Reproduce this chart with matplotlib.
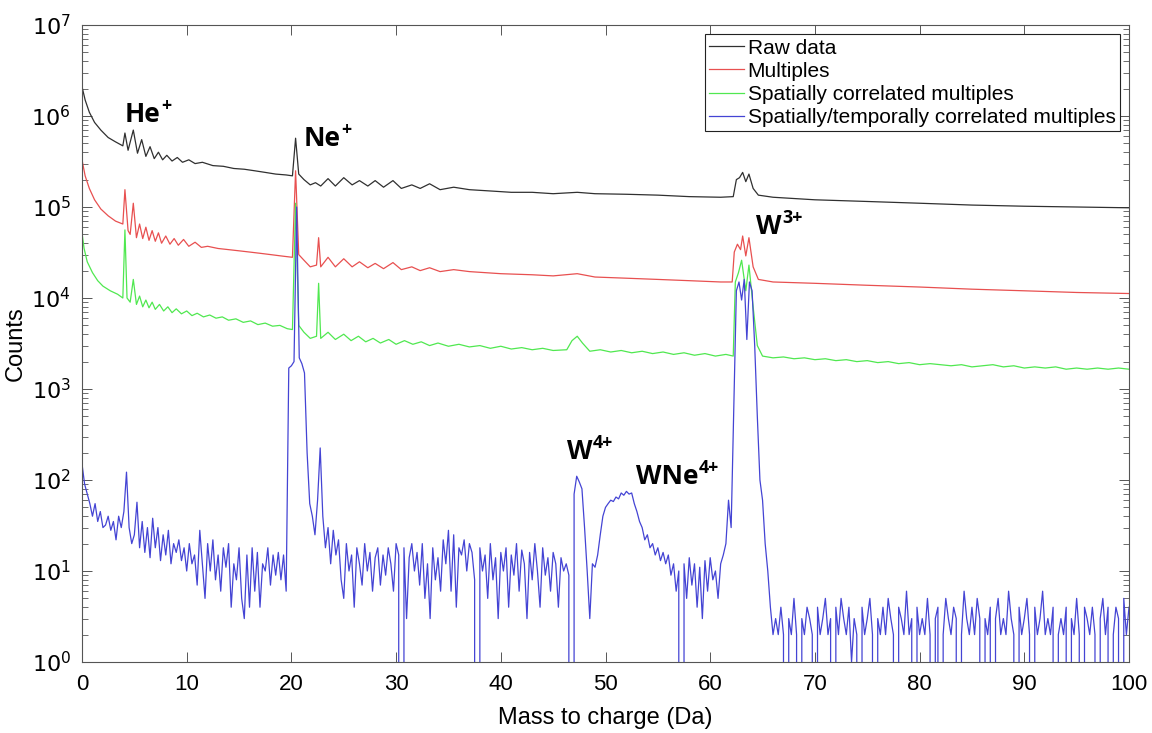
import numpy as np
import matplotlib
matplotlib.use("Agg")
import matplotlib.pyplot as plt
from matplotlib.ticker import FixedLocator, NullFormatter, MultipleLocator

# ---------------- data ----------------
raw_x = [0, 0.3, 0.7, 1.2, 1.8, 2.5, 3.2, 3.9, 4.1, 4.4, 4.9, 5.3, 5.7, 6.1, 6.5, 6.9, 7.3, 7.7,
         8.1, 8.6, 9.1, 9.6, 10.2, 10.8, 11.5, 12.5, 13.5, 14.5, 15.5, 16.5, 17.5, 18.5, 19.5,
         20.1, 20.4, 20.7, 21.2, 21.8, 22.3, 22.8, 23.5, 24.2, 25.0, 25.8, 26.5, 27.3, 28.0,
         28.8, 29.7, 30.5, 31.5, 32.3, 33.2, 34.2, 35.5, 37, 39, 41, 43, 45, 47.3, 49, 52, 55,
         58, 61, 62.2, 62.5, 62.8, 63.1, 63.4, 63.7, 64.1, 64.6, 66, 70, 75, 80, 85, 90, 95, 100]
raw_y = [2.1e6, 1.5e6, 1.1e6, 8.5e5, 7e5, 5.8e5, 5.2e5, 4.7e5, 6.5e5, 4.2e5, 7.0e5, 3.9e5,
         5.5e5, 3.6e5, 4.6e5, 3.4e5, 4.0e5, 3.3e5, 3.7e5, 3.2e5, 3.5e5, 3.1e5, 3.3e5, 3.0e5,
         3.1e5, 2.85e5, 2.8e5, 2.65e5, 2.6e5, 2.5e5, 2.4e5, 2.3e5, 2.25e5, 2.2e5, 5.7e5, 2.3e5,
         2.0e5, 1.75e5, 1.85e5, 1.7e5, 2.05e5, 1.7e5, 2.1e5, 1.75e5, 1.95e5, 1.7e5, 1.95e5,
         1.65e5, 1.95e5, 1.6e5, 1.75e5, 1.6e5, 1.8e5, 1.55e5, 1.65e5, 1.55e5, 1.5e5, 1.45e5,
         1.45e5, 1.4e5, 1.45e5, 1.4e5, 1.38e5, 1.35e5, 1.3e5, 1.28e5, 1.3e5, 2.0e5, 2.1e5,
         2.4e5, 1.9e5, 2.3e5, 1.6e5, 1.35e5, 1.28e5, 1.2e5, 1.15e5, 1.1e5, 1.05e5, 1.02e5,
         1.0e5, 9.8e4]

mult_x = [0, 0.3, 0.7, 1.2, 1.8, 2.5, 3.2, 3.9, 4.1, 4.4, 4.6, 4.9, 5.2, 5.5, 5.8, 6.1, 6.4,
          6.7, 7.0, 7.3, 7.6, 8.0, 8.4, 8.8, 9.2, 9.7, 10.2, 10.8, 11.4, 12.0, 13, 14, 15, 16,
          17, 18, 19, 20.1, 20.4, 20.7, 21.2, 21.8, 22.4, 22.6, 22.8, 23.5, 24.2, 25.0, 25.8,
          26.5, 27.3, 28.0, 28.8, 29.7, 30.5, 31.5, 32.3, 33.2, 34.2, 35.5, 37, 40, 43, 45,
          47.3, 49, 52, 55, 58, 61, 62.1, 62.3, 62.6, 62.9, 63.1, 63.4, 63.7, 64.1, 64.6, 66,
          70, 75, 80, 85, 90, 95, 100]
mult_y = [3.3e5, 2.2e5, 1.6e5, 1.2e5, 9.5e4, 8e4, 7e4, 6.5e4, 1.55e5, 5.5e4, 5e4, 1.1e5,
          4.6e4, 6.5e4, 4.5e4, 6e4, 4.3e4, 5.5e4, 4.2e4, 5.2e4, 4.0e4, 4.8e4, 3.9e4, 4.5e4,
          3.8e4, 4.4e4, 3.7e4, 4.1e4, 3.6e4, 3.7e4, 3.5e4, 3.4e4, 3.3e4, 3.2e4, 3.1e4, 3.0e4,
          2.9e4, 2.8e4, 2.5e5, 3.0e4, 2.6e4, 2.2e4, 2.3e4, 4.6e4, 2.2e4, 2.8e4, 2.2e4, 2.7e4,
          2.2e4, 2.5e4, 2.15e4, 2.4e4, 2.1e4, 2.45e4, 2.05e4, 2.2e4, 2.0e4, 2.15e4, 1.95e4,
          2.05e4, 1.95e4, 1.85e4, 1.8e4, 1.75e4, 1.85e4, 1.7e4, 1.65e4, 1.6e4, 1.55e4, 1.5e4,
          1.5e4, 3.2e4, 3.9e4, 3.4e4, 4.8e4, 2.9e4, 4.6e4, 2.2e4, 1.6e4, 1.5e4, 1.45e4,
          1.38e4, 1.32e4, 1.25e4, 1.2e4, 1.15e4, 1.12e4]

spat_x = [0, 0.2, 0.5, 1.0, 1.5, 2.0, 2.7, 3.4, 3.9, 4.1, 4.3, 4.6, 4.9, 5.2, 5.5, 5.8, 6.1,
          6.4, 6.7, 7.0, 7.4, 7.8, 8.2, 8.6, 9.0, 9.5, 10.0, 10.5, 11.0, 11.6, 12.2, 12.8,
          13.4, 14.0, 14.7, 15.4, 16.1, 16.8, 17.5, 18.2, 18.9, 19.6, 20.1, 20.4, 20.7, 21.2,
          21.8, 22.4, 22.6, 22.8, 23.5, 24.2, 25.0, 25.7, 26.4, 27.1, 27.8, 28.5, 29.3, 30.0,
          30.8, 31.6, 32.4, 33.2, 34.0, 35.0, 36.0, 37.0, 38.0, 39.0, 40.0, 41.0, 42.0, 43.0,
          44.0, 45.0, 46.3, 46.8, 47.3, 47.8, 48.5, 49.5, 50.5, 51.5, 52.5, 53.5, 54.5, 55.5,
          56.5, 57.5, 58.5, 59.5, 60.5, 61.5, 62.2, 62.4, 62.7, 63.0, 63.4, 63.7, 64.1, 64.5,
          65, 66, 67, 68, 69, 70, 71, 72, 73, 74, 75, 76, 77, 78, 79, 80, 81, 82, 83, 84, 85,
          86, 87, 88, 89, 90, 91, 92, 93, 94, 95, 96, 97, 98, 99, 100]
spat_y = [5.2e4, 3.5e4, 2.5e4, 1.9e4, 1.55e4, 1.35e4, 1.2e4, 1.1e4, 1.0e4, 5.6e4, 1.0e4,
          9e3, 1.6e4, 8.5e3, 1.05e4, 8e3, 9.5e3, 7.8e3, 9e3, 7.5e3, 8.5e3, 7.2e3, 8e3, 6.9e3,
          7.6e3, 6.7e3, 7.2e3, 6.4e3, 6.8e3, 6.2e3, 6.5e3, 6.0e3, 6.2e3, 5.7e3, 5.9e3, 5.4e3,
          5.6e3, 5.1e3, 5.3e3, 4.9e3, 5.0e3, 4.6e3, 4.5e3, 1.1e5, 5e3, 4.2e3, 3.6e3, 3.8e3,
          1.45e4, 3.6e3, 4.2e3, 3.5e3, 4.0e3, 3.4e3, 3.8e3, 3.3e3, 3.6e3, 3.2e3, 3.5e3, 3.1e3,
          3.4e3, 3.1e3, 3.3e3, 3.0e3, 3.2e3, 2.95e3, 3.1e3, 2.9e3, 3.0e3, 2.8e3, 2.95e3,
          2.75e3, 2.85e3, 2.7e3, 2.8e3, 2.65e3, 2.7e3, 3.4e3, 3.8e3, 3.2e3, 2.6e3, 2.7e3,
          2.55e3, 2.65e3, 2.5e3, 2.6e3, 2.45e3, 2.55e3, 2.4e3, 2.5e3, 2.35e3, 2.45e3, 2.3e3,
          2.4e3, 2.3e3, 1.5e4, 1.9e4, 2.6e4, 1.2e4, 2.3e4, 8e3, 3e3, 2.3e3, 2.2e3, 2.25e3,
          2.15e3, 2.2e3, 2.1e3, 2.15e3, 2.05e3, 2.1e3, 2.0e3, 2.05e3, 1.95e3, 2.0e3, 1.9e3,
          1.95e3, 1.85e3, 1.9e3, 1.85e3, 1.8e3, 1.85e3, 1.75e3, 1.8e3, 1.85e3, 1.75e3, 1.8e3,
          1.7e3, 1.75e3, 1.7e3, 1.75e3, 1.65e3, 1.7e3, 1.65e3, 1.7e3, 1.65e3, 1.7e3, 1.65e3]

# spatially/temporally correlated multiples, 0.25 Da bins, blocks of 5 Da
st_step = 0.25
st_blocks = [
    [150, 90, 70, 55, 40, 55, 35, 45, 30, 32, 40, 28, 35, 22, 40, 30, 45, 122, 30, 20],
    [25, 57, 18, 35, 16, 30, 14, 38, 18, 30, 13, 25, 15, 28, 12, 20, 16, 22, 13, 18],
    [10, 20, 12, 15, 7, 28, 12, 5, 20, 10, 22, 8, 15, 6, 18, 11, 20, 4, 12, 8],
    [18, 5, 3, 15, 4, 18, 6, 16, 4, 12, 10, 18, 7, 15, 9, 16, 8, 15, 6, 1700],
    [1800, 2000, 100000, 2200, 1900, 1500, 200, 55, 40, 25, 60, 225, 40, 18, 30, 12, 28, 15, 22, 8],
    [5, 20, 10, 15, 4, 18, 12, 7, 20, 10, 16, 6, 14, 18, 7, 15, 9, 18, 12, 6],
    [20, 15, 0, 18, 3, 14, 20, 10, 16, 7, 20, 5, 12, 3, 18, 8, 14, 6, 22, 12],
    [28, 6, 25, 4, 18, 15, 22, 10, 20, 16, 8, 0, 18, 10, 15, 5, 20, 8, 14, 3],
    [16, 10, 18, 4, 15, 9, 20, 6, 17, 12, 3, 16, 8, 20, 10, 4, 18, 9, 14, 6],
    [16, 12, 4, 14, 10, 12, 9, 0, 70, 110, 95, 80, 30, 10, 3, 12, 11, 15, 25, 40],
    [50, 55, 60, 58, 65, 62, 72, 68, 75, 70, 72, 55, 45, 35, 30, 22, 25, 18, 20, 15],
    [18, 13, 16, 12, 15, 9, 12, 6, 10, 0, 12, 5, 14, 7, 12, 4, 11, 3, 13, 6],
    [14, 8, 10, 5, 12, 15, 20, 60, 30, 600, 12000, 15000, 9500, 16000, 3500, 15000, 12000, 3000, 500, 100],
    [60, 20, 10, 4, 2, 3, 2, 4, 2, 0, 3, 2, 5, 2, 0, 3, 2, 4, 3, 2],
    [0, 4, 2, 3, 5, 2, 3, 0, 4, 2, 5, 3, 2, 4, 1, 3, 2, 0, 4, 2],
    [3, 5, 2, 0, 3, 2, 4, 2, 5, 3, 2, 0, 4, 3, 2, 6, 2, 3, 0, 4],
    [2, 3, 2, 5, 2, 0, 3, 4, 0, 2, 5, 3, 2, 4, 3, 0, 2, 6, 3, 2],
    [4, 2, 5, 3, 0, 3, 2, 4, 0, 3, 5, 2, 3, 2, 6, 3, 2, 0, 4, 2],
    [3, 5, 2, 0, 4, 2, 3, 6, 2, 3, 2, 4, 0, 2, 3, 2, 4, 0, 3, 2],
    [5, 2, 0, 4, 3, 2, 4, 2, 0, 3, 5, 2, 4, 0, 2, 4, 3, 0, 5, 2],
    [4],
]
st_y = [v for b in st_blocks for v in b]
st_x = [i * st_step for i in range(len(st_y))]

series_labels = ["Raw data", "Multiples", "Spatially correlated multiples",
                 "Spatially/temporally correlated multiples"]
series_colors = ["#303030", "#e85050", "#50e850", "#4444d4"]

ann_base = ["He", "Ne", "W", "W", "WNe"]
ann_sup = ["+", "+", "3+", "4+", "4+"]
ann_x = [4.1, 21.2, 64.4, 46.3, 52.9]
ann_y = [8.6e5, 4.7e5, 5.0e4, 170, 90]

y_decades = [0, 1, 2, 3, 4, 5, 6, 7]

# ---------------- figure ----------------
fig = plt.figure(figsize=(11.52, 7.33), dpi=100)
ax = fig.add_axes([82 / 1152, 71 / 733, (1129 - 82) / 1152, (662 - 25) / 733])

xs = [raw_x, mult_x, spat_x, st_x]
ys = [raw_y, mult_y, spat_y, st_y]
for x, y, lab, c in zip(xs, ys, series_labels, series_colors):
    ax.plot(x, y, color=c, lw=0.9, label=lab)

ax.set_yscale("log", nonpositive="clip")
ax.set_xlim(0, 100)
ax.set_ylim(1, 1e7)
ax.xaxis.set_major_locator(MultipleLocator(10))
major_y = [10.0 ** d for d in y_decades]
minor_y = [m * 10.0 ** d for d in y_decades[:-1] for m in range(2, 10)]
ax.yaxis.set_major_locator(FixedLocator(major_y))
ax.yaxis.set_minor_locator(FixedLocator(minor_y))
ax.yaxis.set_minor_formatter(NullFormatter())
ax.set_yticklabels([r"$10^{%d}$" % d for d in y_decades])

tick_font = ["Liberation Sans Narrow", "Liberation Sans", "DejaVu Sans"]
ax.tick_params(which="both", direction="in", top=True, right=True, color="#555555")
ax.tick_params(which="major", length=7, width=0.7, labelsize=16)
ax.tick_params(axis="x", which="major", pad=9)
ax.tick_params(axis="y", which="major", pad=8)
ax.tick_params(which="minor", length=4, width=0.6)
for lbl in ax.get_xticklabels() + ax.get_yticklabels():
    lbl.set_family(tick_font)
for sp in ax.spines.values():
    sp.set_color("#555555")
    sp.set_linewidth(0.8)

ax.set_xlabel("Mass to charge (Da)", fontsize=17, family=tick_font, labelpad=8)
ax.set_ylabel("Counts", fontsize=17, family=tick_font, labelpad=3)

fig.canvas.draw()
renderer = fig.canvas.get_renderer()
base_fs = 19
for b, s, x, y in zip(ann_base, ann_sup, ann_x, ann_y):
    t = ax.text(x, y, b, fontsize=base_fs, family=["Open Sans", "DejaVu Sans"],
                weight="bold", ha="left", va="baseline")
    bb = t.get_window_extent(renderer=renderer)
    w_pt = bb.width * 72.0 / fig.dpi
    ax.annotate(s, xy=(x, y), xycoords="data", xytext=(w_pt + 0.5, base_fs * 0.42),
                textcoords="offset points", fontsize=base_fs * 0.68,
                family=["Open Sans", "DejaVu Sans"], weight="bold",
                ha="left", va="baseline")

leg = ax.legend(loc="upper right", frameon=True, fancybox=False,
                edgecolor="#222222", framealpha=1, handlelength=1.7,
                handletextpad=0.15, labelspacing=0.2, borderpad=0.2,
                borderaxespad=0.45,
                prop={"family": ["Liberation Sans", "DejaVu Sans"], "size": 15})
leg.get_frame().set_linewidth(0.8)

fig.savefig("out.png", dpi=100)
